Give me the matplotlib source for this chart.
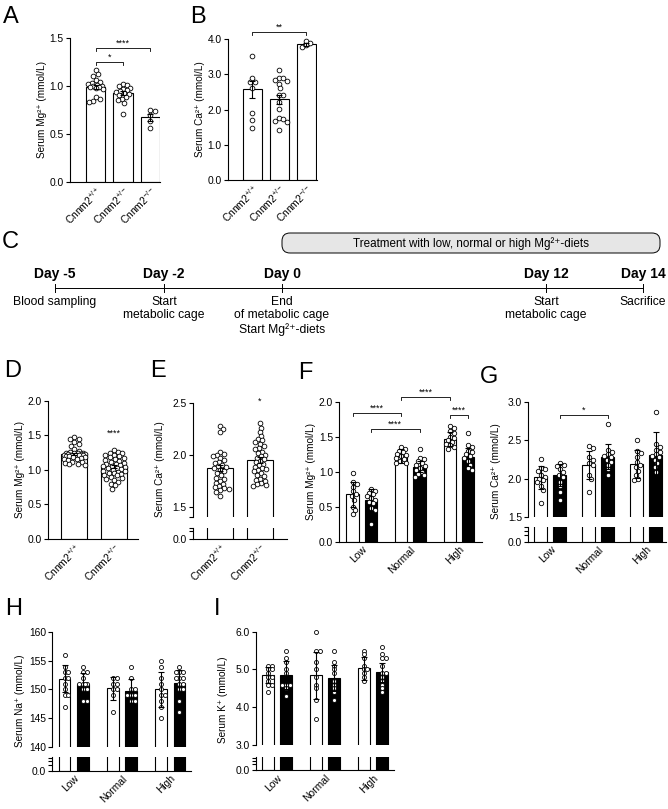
import matplotlib
matplotlib.use('Agg')
import matplotlib.pyplot as plt
import numpy as np
from matplotlib.patches import FancyBboxPatch
from matplotlib.ticker import FormatStrFormatter

plt.rcParams['font.family'] = ['Liberation Sans', 'DejaVu Sans']
plt.rcParams['mathtext.fontset'] = 'custom'
plt.rcParams['mathtext.rm'] = 'Liberation Sans'
plt.rcParams['mathtext.it'] = 'Liberation Sans:italic'
plt.rcParams['mathtext.bf'] = 'Liberation Sans:bold'

# ---------------- data ----------------
genotypes = ['Cnnm2$^{+/+}$', 'Cnnm2$^{+/-}$', 'Cnnm2$^{-/-}$']
genotypes2 = ['Cnnm2$^{+/+}$', 'Cnnm2$^{+/-}$']
diets = ['Low', 'Normal', 'High']

# A: serum Mg (mean, SEM, points)
a_means = [0.99, 0.92, 0.67]
a_err = [0.02, 0.02, 0.04]
a_pts_wt = [1.16, 1.12, 1.10, 1.06, 1.04, 1.03, 1.02, 1.01, 1.00, 1.00, 0.99, 0.99, 0.98, 0.97, 0.88, 0.86, 0.84, 0.83]
a_pts_het = [1.02, 1.01, 1.00, 0.98, 0.97, 0.95, 0.94, 0.93, 0.92, 0.91, 0.90, 0.88, 0.86, 0.85, 0.82, 0.71]
a_pts_ko = [0.75, 0.74, 0.70, 0.63, 0.56]
a_sig = [(0, 1, 1.25, '*'), (0, 2, 1.39, '****')]

# B: serum Ca
b_means = [2.57, 2.29, 3.85]
b_err = [0.23, 0.12, 0.05]
b_pts_wt = [3.52, 2.88, 2.78, 2.77, 2.62, 1.90, 1.70, 1.48]
b_pts_het = [3.12, 2.90, 2.88, 2.85, 2.80, 2.72, 2.60, 2.42, 2.40, 2.20, 2.02, 1.75, 1.72, 1.68, 1.65, 1.42]
b_pts_ko = [3.95, 3.90, 3.82, 3.78]
b_sig = [(0, 2, 4.21, '**')]

# C: timeline
days = ['Day -5', 'Day -2', 'Day 0', 'Day 12', 'Day 14']
day_text = ['Blood sampling', 'Start\nmetabolic cage', 'End\nof metabolic cage\nStart Mg²⁺-diets',
            'Start\nmetabolic cage', 'Sacrifice']
treatment_text = 'Treatment with low, normal or high Mg²⁺-diets'

# D: serum Mg, large cohort
d_means = [1.23, 1.048]
d_err = [0.02, 0.02]
d_pts_wt = [1.48, 1.45, 1.44, 1.40, 1.38, 1.35, 1.30, 1.27, 1.26, 1.25, 1.25, 1.24, 1.24, 1.23, 1.23, 1.23,
            1.22, 1.22, 1.22, 1.21, 1.21, 1.20, 1.20, 1.19, 1.18, 1.17, 1.16, 1.15, 1.14, 1.12, 1.11, 1.10,
            1.09, 1.08, 1.07]
d_pts_het = [1.28, 1.26, 1.25, 1.24, 1.22, 1.21, 1.20, 1.18, 1.17, 1.15, 1.14, 1.13, 1.12, 1.10, 1.09, 1.08,
             1.07, 1.06, 1.05, 1.04, 1.03, 1.02, 1.01, 1.00, 0.99, 0.98, 0.97, 0.96, 0.95, 0.94, 0.93, 0.92,
             0.90, 0.88, 0.87, 0.85, 0.83, 0.80, 0.78, 0.73]
d_star = (1, 1.47, '****')

# E: serum Ca, large cohort
e_means = [1.87, 1.95]
e_err = [0.03, 0.03]
e_pts_wt = [2.28, 2.25, 2.22, 2.03, 2.01, 2.00, 1.99, 1.97, 1.95, 1.93, 1.92, 1.90, 1.89, 1.88, 1.87, 1.85,
            1.84, 1.82, 1.80, 1.78, 1.77, 1.75, 1.73, 1.72, 1.70, 1.69, 1.68, 1.67, 1.66, 1.64, 1.60]
e_pts_het = [2.30, 2.26, 2.22, 2.18, 2.15, 2.14, 2.12, 2.10, 2.08, 2.06, 2.05, 2.03, 2.02, 2.00, 1.99, 1.97,
             1.96, 1.94, 1.93, 1.91, 1.90, 1.88, 1.87, 1.86, 1.85, 1.84, 1.82, 1.80, 1.79, 1.77, 1.76, 1.75,
             1.73, 1.72, 1.71, 1.70]
e_star = (1, 2.47, '*')

# F: serum Mg after diets (mean, SD)
f_wt_means = [0.68, 1.23, 1.47]
f_wt_sd = [0.18, 0.10, 0.10]
f_het_means = [0.595, 1.07, 1.214]
f_het_sd = [0.155, 0.08, 0.13]
f_wt_pts = [[0.98, 0.85, 0.82, 0.78, 0.72, 0.68, 0.65, 0.60, 0.50, 0.45, 0.40],
            [1.35, 1.32, 1.30, 1.28, 1.25, 1.24, 1.22, 1.20, 1.18, 1.15, 1.13, 1.12],
            [1.65, 1.62, 1.58, 1.55, 1.50, 1.48, 1.45, 1.43, 1.40, 1.38, 1.35, 1.33]]
f_het_pts = [[0.75, 0.72, 0.70, 0.68, 0.65, 0.62, 0.60, 0.57, 0.55, 0.48, 0.45, 0.25],
             [1.33, 1.20, 1.18, 1.15, 1.12, 1.10, 1.08, 1.05, 1.03, 1.00, 0.97, 0.95, 0.93],
             [1.55, 1.38, 1.35, 1.30, 1.28, 1.25, 1.22, 1.20, 1.15, 1.10, 1.05, 1.03]]
# (group_i, series_i, group_j, series_j, y, label); series 0 = white, 1 = black
f_sig = [(0, 0, 1, 0, 1.84, '****'), (0, 1, 1, 1, 1.605, '****'),
         (1, 0, 2, 0, 2.07, '****'), (2, 0, 2, 1, 1.81, '****')]

# G: serum Ca after diets
g_wt_means = [2.016, 2.178, 2.19]
g_wt_sd = [0.15, 0.18, 0.18]
g_het_means = [2.047, 2.287, 2.31]
g_het_sd = [0.14, 0.166, 0.30]
g_wt_pts = [[2.26, 2.14, 2.12, 2.10, 2.05, 2.02, 2.00, 1.98, 1.95, 1.90, 1.85, 1.68],
            [2.43, 2.40, 2.28, 2.25, 2.20, 2.18, 2.05, 2.00, 1.83],
            [2.51, 2.36, 2.34, 2.28, 2.22, 2.18, 2.15, 2.10, 2.05, 2.00, 1.98]]
g_het_pts = [[2.20, 2.18, 2.16, 2.12, 2.08, 2.05, 2.02, 1.96, 1.90, 1.82, 1.72],
             [2.72, 2.38, 2.35, 2.32, 2.30, 2.28, 2.25, 2.22, 2.18, 2.12, 2.05],
             [2.87, 2.45, 2.42, 2.38, 2.35, 2.32, 2.30, 2.28, 2.25, 2.20, 2.15, 2.08]]
g_sig = [(0, 1, 1, 1, 2.83, '*')]

# H: serum Na
h_wt_means = [151.9, 150.2, 150.0]
h_wt_sd = [2.4, 2.0, 3.1]
h_het_means = [151.0, 149.7, 151.2]
h_het_sd = [1.9, 2.1, 2.2]
h_wt_pts = [[156, 154, 153, 153, 152, 152, 151, 150, 149, 149, 147],
            [152, 152, 151, 151, 150, 150, 149, 146],
            [155, 154, 152, 151, 150, 149, 149, 148, 147, 145]]
h_het_pts = [[154, 153, 153, 152, 151, 151, 151, 151, 150, 150, 148, 148],
             [154, 152, 150, 150, 149, 149, 149, 148, 148],
             [154, 153, 153, 153, 152, 152, 152, 151, 151, 150, 150, 148, 146]]

# I: serum K
i_wt_means = [4.85, 4.85, 5.03]
i_wt_sd = [0.22, 0.62, 0.30]
i_het_means = [4.85, 4.77, 4.92]
i_het_sd = [0.37, 0.35, 0.25]
i_wt_pts = [[5.1, 5.1, 5.0, 5.0, 4.9, 4.8, 4.8, 4.7, 4.6, 4.6, 4.4],
            [6.0, 5.5, 5.5, 5.2, 5.0, 4.8, 4.6, 4.5, 4.2, 3.7],
            [5.5, 5.4, 5.3, 5.1, 5.0, 5.0, 4.9, 4.8, 4.7]]
i_het_pts = [[5.5, 5.3, 5.2, 5.0, 4.9, 4.6, 4.6, 4.6, 4.5, 4.3],
             [5.5, 5.2, 5.1, 5.0, 4.9, 4.7, 4.6, 4.5, 4.4, 4.2],
             [5.6, 5.4, 5.3, 5.3, 5.1, 4.9, 4.9, 4.8, 4.7, 4.6, 4.5, 4.4]]

# ---------------- layout helpers ----------------
W, H = 668, 809
fig = plt.figure(figsize=(W / 100, H / 100), dpi=100)

TICK_FS = 7.4
LABEL_FS = 7.2
LW = 0.8


def rect(x0, y0, x1, y1):
    return [x0 / W, 1 - y1 / H, (x1 - x0) / W, (y1 - y0) / H]


def style(ax):
    for s in ['top', 'right']:
        ax.spines[s].set_visible(False)
    for s in ['left', 'bottom']:
        ax.spines[s].set_linewidth(LW)
    ax.tick_params(axis='y', which='both', length=3, width=LW, labelsize=TICK_FS, pad=1.5)
    ax.tick_params(axis='x', length=0, labelsize=TICK_FS, pad=2)
    ax.patch.set_alpha(0)


def swarm_x(ax, xc, vals, diam_px, max_px):
    T = ax.transData
    ppu_x = T.transform((1, 0))[0] - T.transform((0, 0))[0]
    placed = []
    out = []
    step = diam_px / 5.0
    cands = [0.0]
    k = 1
    while k * step <= max_px:
        cands += [k * step, -k * step]
        k += 1
    thr = diam_px * 0.8
    for v in vals:
        y = T.transform((xc, v))[1]
        best, best_d = 0.0, -1
        chosen = None
        for c in cands:
            md = min([np.hypot(c - px, y - py) for px, py in placed] + [1e9])
            if md >= thr:
                chosen = c
                break
            if md > best_d:
                best, best_d = c, md
        if chosen is None:
            chosen = best
        placed.append((chosen, y))
        out.append(xc + chosen / ppu_x)
    return out


def points(ax, xc, vals, ms, bar_w):
    diam = ms * 100 / 72 + 0.6
    T = ax.transData
    bar_px = bar_w * (T.transform((1, 0))[0] - T.transform((0, 0))[0])
    max_px = max(0.5 * bar_px - 0.3 * diam, diam)
    xs = swarm_x(ax, xc, vals, diam, max_px)
    ax.plot(xs, vals, 'o', ms=ms, mfc='white', mec='black', mew=0.6, ls='none', zorder=3, clip_on=False)


def errbars(ax, xs, means, errs):
    ax.errorbar(xs, means, yerr=errs, fmt='none', ecolor='black', elinewidth=LW,
                capsize=2.3, capthick=LW, zorder=4, clip_on=False)


def bracket(ax, x1, x2, y, label, drop_px=3.0, fs=6.5):
    T = ax.transData
    ppu_y = T.transform((0, 1))[1] - T.transform((0, 0))[1]
    d = drop_px / ppu_y
    ax.plot([x1, x1, x2, x2], [y - d, y, y, y - d], color='black', lw=0.6, clip_on=False, zorder=5)
    ax.text((x1 + x2) / 2, y + 0.3 / ppu_y, label, ha='center', va='bottom', fontsize=fs, clip_on=False)


def panel_letter(x, y, s):
    fig.text(x / W, 1 - y / H, s, fontsize=17, va='top', ha='left')


def xlabels(ax, xs, labels):
    ax.set_xticks(xs)
    ax.set_xticklabels(labels, rotation=45, ha='right', rotation_mode='anchor', fontsize=TICK_FS)


# ---------------- C: timeline (drawn on a full-figure canvas) ----------------
axc = fig.add_axes([0, 0, 1, 1])
axc.set_xlim(0, W)
axc.set_ylim(H, 0)
axc.axis('off')
timeline_x = [55, 164, 282, 546, 643]
line_y = 288
axc.plot([timeline_x[0], timeline_x[-1]], [line_y, line_y], color='black', lw=0.7)
for x, dlab, dtxt in zip(timeline_x, days, day_text):
    axc.plot([x, x], [line_y - 4, line_y + 4], color='black', lw=0.7)
    axc.text(x, line_y - 14, dlab, ha='center', va='center', fontsize=10, fontweight='bold')
    axc.text(x, line_y + 8, dtxt, ha='center', va='top', fontsize=8.7, linespacing=1.15)
box = FancyBboxPatch((282, 233), 378, 20, boxstyle='round,pad=0,rounding_size=8',
                     facecolor='#e6e6e6', edgecolor='black', lw=0.7)
axc.add_patch(box)
axc.text(471, 243.5, treatment_text, ha='center', va='center', fontsize=8.4)

# ---------------- A ----------------
axA = fig.add_axes(rect(70, 37.7, 160, 181.7))
style(axA)
axA.set_xlim(-0.93, 2.35)
axA.set_ylim(0, 1.5)
xA = np.arange(3)
wA = 0.72
axA.bar(xA, a_means, wA, color='white', edgecolor='black', lw=LW, zorder=1)
for x, pts in zip(xA, [a_pts_wt, a_pts_het, a_pts_ko]):
    points(axA, x, pts, 3.4, wA)
errbars(axA, xA, a_means, a_err)
axA.set_yticks([0, 0.5, 1.0, 1.5])
axA.yaxis.set_major_formatter(FormatStrFormatter('%.1f'))
axA.set_ylabel('Serum Mg²⁺ (mmol/L)', fontsize=LABEL_FS, labelpad=2)
xlabels(axA, xA, genotypes)
for i, j, y, lab in a_sig:
    bracket(axA, xA[i], xA[j], y, lab)

# ---------------- B ----------------
axB = fig.add_axes(rect(228, 39, 317, 180))
style(axB)
axB.set_xlim(-0.89, 2.4)
axB.set_ylim(0, 4.0)
xB = np.arange(3)
wB = 0.7
axB.bar(xB, b_means, wB, color='white', edgecolor='black', lw=LW, zorder=1)
for x, pts in zip(xB, [b_pts_wt, b_pts_het, b_pts_ko]):
    points(axB, x, pts, 3.4, wB)
errbars(axB, xB, b_means, b_err)
axB.set_yticks([0, 1, 2, 3, 4])
axB.yaxis.set_major_formatter(FormatStrFormatter('%.1f'))
axB.set_ylabel('Serum Ca²⁺ (mmol/L)', fontsize=LABEL_FS, labelpad=2)
xlabels(axB, xB, genotypes)
for i, j, y, lab in b_sig:
    bracket(axB, xB[i], xB[j], y, lab)

# ---------------- D ----------------
axD = fig.add_axes(rect(48, 400.7, 138, 539))
style(axD)
axD.set_xlim(-0.67, 1.61)
axD.set_ylim(0, 2.0)
xD = np.arange(2)
wD = 0.66
axD.bar(xD, d_means, wD, color='white', edgecolor='black', lw=LW, zorder=1)
for x, pts in zip(xD, [d_pts_wt, d_pts_het]):
    points(axD, x, pts, 3.4, wD)
errbars(axD, xD, d_means, d_err)
axD.set_yticks([0, 0.5, 1.0, 1.5, 2.0])
axD.yaxis.set_major_formatter(FormatStrFormatter('%.1f'))
axD.set_ylabel('Serum Mg²⁺ (mmol/L)', fontsize=LABEL_FS, labelpad=2)
xlabels(axD, xD, genotypes2)
axD.text(xD[d_star[0]], d_star[1], d_star[2], ha='center', va='bottom', fontsize=6.5)


# ---------------- broken-axis helper ----------------
def broken(up, lo, xlim, ylim, ticks, fmt, lo_minor, up_minor=None):
    au = fig.add_axes(rect(*up))
    al = fig.add_axes(rect(*lo))
    for a in (au, al):
        style(a)
        a.set_xlim(xlim)
    au.set_ylim(ylim)
    au.spines['bottom'].set_visible(False)
    au.set_xticks([])
    au.set_yticks(ticks)
    au.yaxis.set_major_formatter(FormatStrFormatter(fmt))
    if up_minor is not None:
        au.set_yticks(up_minor, minor=True)
    al.set_ylim(0, 1)
    al.set_yticks([0])
    al.set_yticklabels(['0.0'])
    al.set_yticks(lo_minor, minor=True)
    return au, al


# ---------------- E ----------------
axE, axE2 = broken((193, 402.7, 287, 517), (193, 528, 287, 539), (-0.675, 1.675),
                   (1.4, 2.5), [1.5, 2.0, 2.5], '%.1f', [0.7, 1.0], up_minor=[1.4])
xE = np.arange(2)
wE = 0.65
for a in (axE, axE2):
    a.bar(xE, e_means, wE, color='white', edgecolor='black', lw=LW, zorder=1)
for x, pts in zip(xE, [e_pts_wt, e_pts_het]):
    points(axE, x, pts, 3.4, wE)
errbars(axE, xE, e_means, e_err)
axE.set_ylabel('Serum Ca²⁺ (mmol/L)', fontsize=LABEL_FS, labelpad=2)
axE.yaxis.set_label_coords(-0.3, 0.42)
xlabels(axE2, xE, genotypes2)
axE.text(xE[e_star[0]], e_star[1], e_star[2], ha='center', va='bottom', fontsize=6.5, clip_on=False)


# ---------------- grouped panels ----------------
def grouped(axes, wm, ws, hm, hs, wp, hp, off, width, ms):
    g = np.arange(3)
    xw, xh = g - off, g + off
    for a in axes:
        a.bar(xw, wm, width, color='white', edgecolor='black', lw=LW, zorder=1)
        a.bar(xh, hm, width, color='black', edgecolor='black', lw=LW, zorder=1)
    main = axes[0]
    for x, pts in zip(xw, wp):
        points(main, x, pts, ms, width)
    for x, pts in zip(xh, hp):
        points(main, x, pts, ms, width)
    errbars(main, xw, wm, ws)
    errbars(main, xh, hm, hs)
    return xw, xh


# F
axF = fig.add_axes(rect(339.3, 401.7, 481.7, 541.7))
style(axF)
axF.set_xlim(-0.463, 2.47)
axF.set_ylim(0, 2.0)
xFw, xFh = grouped([axF], f_wt_means, f_wt_sd, f_het_means, f_het_sd, f_wt_pts, f_het_pts, 0.19, 0.25, 3.2)
axF.set_yticks([0, 0.5, 1.0, 1.5, 2.0])
axF.yaxis.set_major_formatter(FormatStrFormatter('%.1f'))
axF.set_ylabel('Serum Mg²⁺ (mmol/L)', fontsize=LABEL_FS, labelpad=2)
xlabels(axF, np.arange(3), diets)
for gi, si, gj, sj, y, lab in f_sig:
    xi = (xFw, xFh)[si][gi]
    xj = (xFw, xFh)[sj][gj]
    bracket(axF, xi, xj, y, lab)

# G
axG, axG2 = broken((528.3, 402.3, 666, 516.7), (528.3, 527.3, 666, 541.7), (-0.457, 2.41),
                   (1.5, 3.0), [1.5, 2.0, 2.5, 3.0], '%.1f', [0.5, 0.75, 1.0])
xGw, xGh = grouped([axG, axG2], g_wt_means, g_wt_sd, g_het_means, g_het_sd, g_wt_pts, g_het_pts,
                   0.195, 0.27, 3.2)
axG.set_ylabel('Serum Ca²⁺ (mmol/L)', fontsize=LABEL_FS, labelpad=2)
axG.yaxis.set_label_coords(-0.2, 0.4)
xlabels(axG2, np.arange(3), diets)
for gi, si, gj, sj, y, lab in g_sig:
    xi = (xGw, xGh)[si][gi]
    xj = (xGw, xGh)[sj][gj]
    bracket(axG, xi, xj, y, lab)

# H
axH, axH2 = broken((52.3, 632.3, 191, 746.7), (52.3, 757.3, 191, 770.7), (-0.444, 2.43),
                   (140, 160), [140, 145, 150, 155, 160], '%d', [0.45, 0.7, 0.95])
grouped([axH, axH2], h_wt_means, h_wt_sd, h_het_means, h_het_sd, h_wt_pts, h_het_pts, 0.19, 0.24, 2.9)
axH.set_ylabel('Serum Na⁺ (mmol/L)', fontsize=LABEL_FS, labelpad=2)
axH.yaxis.set_label_coords(-0.2, 0.4)
xlabels(axH2, np.arange(3), diets)

# I
axI, axI2 = broken((255.7, 631.7, 394, 745), (255.7, 757.3, 394, 770), (-0.444, 2.44),
                   (3.0, 6.0), [3.0, 4.0, 5.0, 6.0], '%.1f', [0.45, 0.7, 0.95])
grouped([axI, axI2], i_wt_means, i_wt_sd, i_het_means, i_het_sd, i_wt_pts, i_het_pts, 0.19, 0.25, 2.9)
axI.set_ylabel('Serum K⁺ (mmol/L)', fontsize=LABEL_FS, labelpad=2)
axI.yaxis.set_label_coords(-0.2, 0.4)
xlabels(axI2, np.arange(3), diets)

# ---------------- panel letters ----------------
panel_letter(3, 6, 'A')
panel_letter(190, 6, 'B')
panel_letter(2, 231, 'C')
panel_letter(4, 360, 'D')
panel_letter(150, 360, 'E')
panel_letter(298, 362, 'F')
panel_letter(480, 366, 'G')
panel_letter(5, 598, 'H')
panel_letter(214, 598, 'I')

fig.savefig('out.png', dpi=100)
